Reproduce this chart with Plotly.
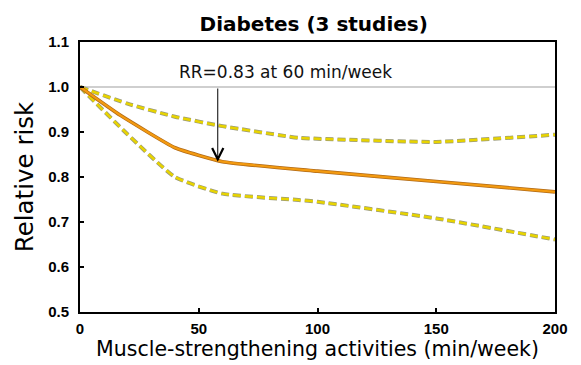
import plotly.graph_objects as go

x_minutes = [0, 17, 40, 60, 100, 150, 200]
rr_mid = [1.0, 0.937, 0.865, 0.834, 0.813, 0.790, 0.767]

x_ci = [0, 20, 40, 60, 92, 100, 150, 200]
rr_upper = [1.0, 0.963, 0.934, 0.913, 0.887, 0.885, 0.878, 0.894]
rr_lower = [1.0, 0.895, 0.800, 0.763, 0.749, 0.745, 0.708, 0.661]

x_ticks = [0, 50, 100, 150, 200]
y_ticks = [0.5, 0.6, 0.7, 0.8, 0.9, 1.0, 1.1]
y_ticklabels = ["0.5", "0.6", "0.7", "0.8", "0.9", "1.0", "1.1"]

fig = go.Figure()

# reference line at RR = 1
fig.add_trace(go.Scatter(x=[0, 200], y=[1.0, 1.0], mode="lines",
                         line=dict(color="#a0a0a0", width=1.2), hoverinfo="skip"))

for ys in (rr_upper, rr_lower):
    fig.add_trace(go.Scatter(x=x_ci, y=ys, mode="lines",
                             line=dict(color="#9a9a7a", width=4.0, dash="8px,4px", shape="spline", smoothing=0.5)))
    fig.add_trace(go.Scatter(x=x_ci, y=ys, mode="lines",
                             line=dict(color="#e8d400", width=2.5, dash="8px,4px", shape="spline", smoothing=0.5)))

fig.add_trace(go.Scatter(x=x_minutes, y=rr_mid, mode="lines",
                         line=dict(color="#b06a18", width=3.6, shape="spline", smoothing=0.4)))
fig.add_trace(go.Scatter(x=x_minutes, y=rr_mid, mode="lines",
                         line=dict(color="#f39a10", width=2.2, shape="spline", smoothing=0.4)))

fig.add_annotation(x=58, y=0.834, ax=58, ay=1.0, xref="x", yref="y", axref="x", ayref="y",
                   text="", showarrow=True, arrowhead=5, arrowsize=2.2, arrowwidth=1, arrowcolor="black")
fig.add_annotation(x=86.5, y=1.034, xref="x", yref="y", text="RR=0.83 at 60 min/week",
                   showarrow=False, font=dict(family="DejaVu Sans", size=17, color="#111"))

fig.update_layout(
    width=581, height=365,
    margin=dict(l=80, r=26, t=42, b=48),
    paper_bgcolor="white", plot_bgcolor="white",
    showlegend=False,
    title=dict(text="<b>Diabetes (3 studies)</b>", x=0.54, xanchor="center", y=0.935, yanchor="middle",
               font=dict(family="DejaVu Sans", size=20, color="black")),
    xaxis=dict(range=[0, 200], tickvals=x_ticks, ticks="inside", ticklen=4, tickwidth=1.5, tickcolor="black",
               showline=True, linecolor="black", linewidth=2, mirror=True, showgrid=False, zeroline=False,
               ticklabelstandoff=2,
               tickfont=dict(family="Liberation Sans", size=15, color="black", weight="bold"),
               title=dict(text="Muscle-strengthening activities (min/week)", standoff=2,
                          font=dict(family="DejaVu Sans", size=20.5, color="black"))),
    yaxis=dict(range=[0.5, 1.1], tickvals=y_ticks, ticktext=y_ticklabels, ticks="inside", ticklen=4, tickwidth=1.5,
               tickcolor="black", showline=True, linecolor="black", linewidth=2, mirror=True, showgrid=False,
               zeroline=False, ticklabelstandoff=6,
               tickfont=dict(family="Liberation Sans", size=15, color="black", weight="bold"),
               title=dict(text="Relative risk", standoff=8,
                          font=dict(family="DejaVu Sans", size=24.5, color="black"))),
)

fig.write_html("out.html")
